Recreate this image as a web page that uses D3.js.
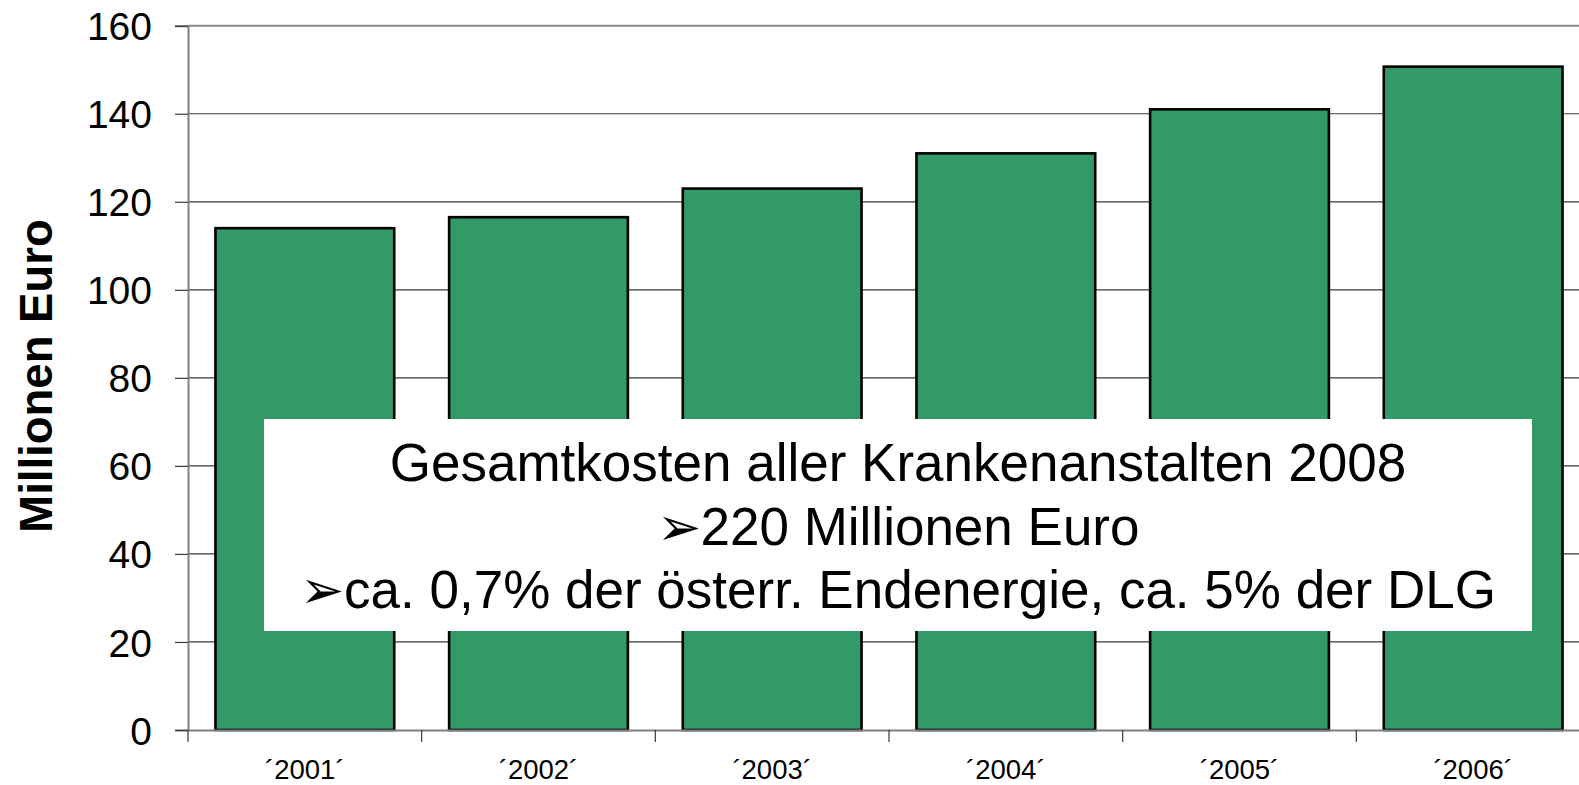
<!DOCTYPE html>
<html>
<head>
<meta charset="utf-8">
<script src="https://cdn.jsdelivr.net/npm/d3@7"></script>
<style>
  html, body { margin: 0; padding: 0; background: #fff; overflow: hidden; }
  svg { display: block; font-family: "Liberation Sans", Arial, sans-serif; }
</style>
</head>
<body>
<svg id="chart" width="1579" height="785"></svg>
<script>
const categories = ["´2001´", "´2002´", "´2003´", "´2004´", "´2005´", "´2006´"];
const values = [114, 116.5, 123, 131, 141, 150.7];
const yTicks = [0, 20, 40, 60, 80, 100, 120, 140, 160];
const yTitle = "Millionen Euro";
const boxLines = [
  "Gesamtkosten aller Krankenanstalten 2008",
  "➢220 Millionen Euro",
  "➢ca. 0,7% der österr. Endenergie, ca. 5% der DLG"
];

const svg = d3.select("#chart");
const plotLeft = 188, plotRight = 1590, plotTop = 25.7, plotBottom = 730;

const x = d3.scaleBand().domain(categories).range([plotLeft, plotRight])
  .paddingInner(0.235).paddingOuter(0.1175);
const y = d3.scaleLinear().domain([0, 160]).range([plotBottom, plotTop]);

// gridlines
svg.append("g").selectAll("line")
  .data(yTicks.filter(v => v > 0))
  .join("line")
  .attr("x1", plotLeft).attr("x2", plotRight)
  .attr("y1", d => y(d)).attr("y2", d => y(d))
  .attr("stroke", d => d === 160 ? "#8a8a8a" : "#3a3a3a")
  .attr("stroke-width", d => d === 160 ? 2 : 1.2);

// bars
svg.append("g").selectAll("rect")
  .data(values)
  .join("rect")
  .attr("x", (d, i) => x(categories[i]))
  .attr("y", d => y(d))
  .attr("width", x.bandwidth())
  .attr("height", d => y(0) - y(d))
  .attr("fill", "#339966")
  .attr("stroke", "#000")
  .attr("stroke-width", 2.6);

// y axis
const yAxis = svg.append("g")
  .attr("transform", `translate(${plotLeft},0)`)
  .call(d3.axisLeft(y).tickValues(yTicks).tickSize(13).tickPadding(23).tickFormat(d3.format("d")));
yAxis.select(".domain").attr("stroke", "#7f7f7f").attr("stroke-width", 2);
yAxis.selectAll(".tick line").attr("stroke", "#3a3a3a").attr("stroke-width", 1.2);
yAxis.selectAll(".tick text")
  .attr("font-size", 39).attr("fill", "#000")
  .attr("font-family", "Liberation Sans, Arial, sans-serif")
  .attr("dy", "0.36em");

// x axis
const xAxis = svg.append("g")
  .attr("transform", `translate(0,${plotBottom})`)
  .call(d3.axisBottom(x).tickSize(0).tickPadding(29));
xAxis.select(".domain").attr("stroke", "#7f7f7f").attr("stroke-width", 2);
xAxis.selectAll(".tick text")
  .attr("font-size", 27.5).attr("fill", "#000")
  .attr("font-family", "Liberation Sans, Arial, sans-serif");

// tick marks at category boundaries
const step = x.step();
svg.append("g").selectAll("line")
  .data(d3.range(categories.length + 1))
  .join("line")
  .attr("x1", i => plotLeft + i * step).attr("x2", i => plotLeft + i * step)
  .attr("y1", plotBottom).attr("y2", plotBottom + 12)
  .attr("stroke", "#3a3a3a").attr("stroke-width", 1.2);

// y title
svg.append("text")
  .attr("transform", `translate(52,376) rotate(-90)`)
  .attr("text-anchor", "middle")
  .attr("font-size", 45.5).attr("font-weight", "bold").attr("fill", "#000")
  .text(yTitle);

// annotation box
const bx0 = 264, bx1 = 1532, by0 = 419, by1 = 631;
svg.append("rect")
  .attr("x", bx0).attr("y", by0)
  .attr("width", bx1 - bx0).attr("height", by1 - by0)
  .attr("fill", "#fff");
const cx = (bx0 + bx1) / 2;
svg.append("g").selectAll("text")
  .data(boxLines)
  .join("text")
  .attr("x", cx)
  .attr("y", (d, i) => 481 + i * 63.5)
  .attr("text-anchor", "middle")
  .attr("font-size", 53)
  .attr("fill", "#000")
  .text(d => d);
</script>
</body>
</html>
